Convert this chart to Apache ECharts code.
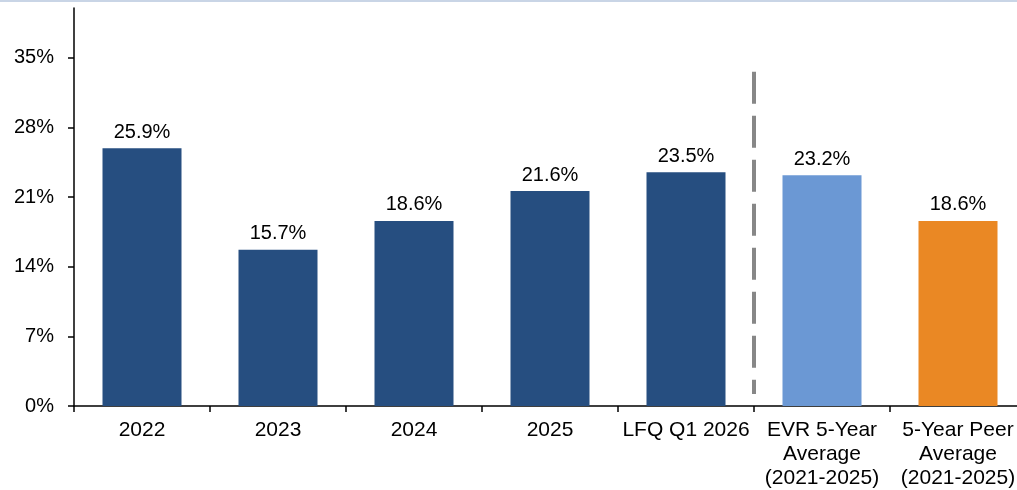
<!DOCTYPE html>
<html>
<head>
<meta charset="utf-8">
<title>ROE chart</title>
<script src="https://cdn.jsdelivr.net/npm/echarts@6/dist/echarts.min.js"></script>
<style>
    html, body { margin: 0; padding: 0; background: #fff; }
    #chart { width: 1017px; height: 490px; }
</style>
</head>
<body>
<div id="chart"></div>
<script>
// 数据
let categories = ['2022', '2023', '2024', '2025', 'LFQ Q1 2026', 'EVR 5-Year\nAverage\n(2021-2025)', '5-Year Peer\nAverage\n(2021-2025)'];
let values = [25.9, 15.7, 18.6, 21.6, 23.5, 23.2, 18.6];
let barColors = ['#264e80', '#264e80', '#264e80', '#264e80', '#264e80', '#6b98d4', '#ea8824'];
let yTicks = [0, 7, 14, 21, 28, 35];
// 分隔虚线 (位置, 上端, 下端)
let dividerX = 5;
let dividerTop = 33.6;
let dividerBottom = 1.2;

const FONT = 'Liberation Sans, Arial, sans-serif';

let chart = echarts.init(document.getElementById('chart'));

let option = {
    animation: false,
    textStyle: { fontFamily: FONT },
    graphic: [
        {
            // 顶部浅蓝色线
            type: 'rect',
            left: 0,
            top: 0,
            shape: { width: 1017, height: 2 },
            style: { fill: '#c9d5e6' }
        }
    ],
    grid: {
        left: 74,
        width: 952,
        top: 8,
        bottom: 84,
        containLabel: false,
        outerBoundsMode: 'none'
    },
    xAxis: [
        {
            type: 'category',
            data: categories,
            axisLine: { lineStyle: { color: '#000', width: 1.5 } },
            axisTick: { show: true, length: 6, lineStyle: { color: '#000', width: 1.5 } },
            axisLabel: {
                color: '#000',
                fontSize: 21,
                fontFamily: FONT,
                lineHeight: 24,
                margin: 12,
                interval: 0
            }
        },
        {
            // 虚线用的数值轴
            type: 'value',
            min: 0,
            max: categories.length,
            show: false
        }
    ],
    yAxis: {
        type: 'value',
        min: 0,
        max: 40,
        splitLine: { show: false },
        axisLine: { show: true, lineStyle: { color: '#000', width: 1.5 } },
        axisTick: {
            show: true,
            length: 6,
            customValues: yTicks,
            lineStyle: { color: '#000', width: 1.5 }
        },
        axisLabel: {
            color: '#000',
            fontSize: 20,
            fontFamily: FONT,
            margin: 20,
            customValues: yTicks,
            formatter: v => v + '%'
        }
    },
    series: [
        {
            type: 'bar',
            data: values.map((v, i) => ({ value: v, itemStyle: { color: barColors[i] } })),
            barWidth: 79,
            label: {
                show: true,
                position: 'top',
                distance: 6,
                color: '#000',
                fontSize: 20,
                fontFamily: FONT,
                formatter: p => p.value.toFixed(1) + '%'
            }
        },
        {
            // 分隔虚线
            type: 'line',
            xAxisIndex: 1,
            data: [[dividerX, dividerTop], [dividerX, dividerBottom]],
            symbol: 'none',
            silent: true,
            lineStyle: { color: '#878787', width: 4, type: [32, 12] }
        }
    ]
};

chart.setOption(option);
</script>
</body>
</html>
